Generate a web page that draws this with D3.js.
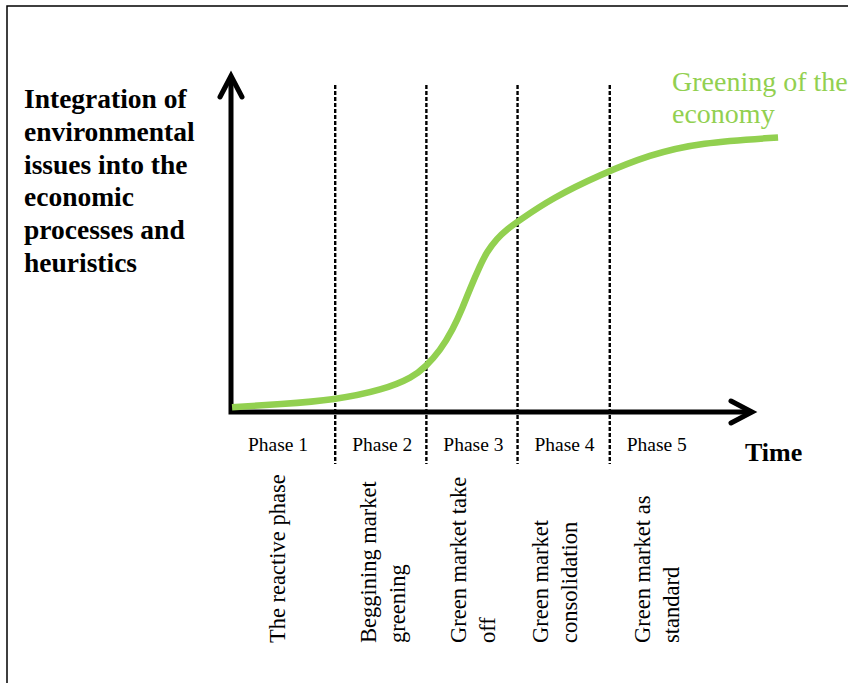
<!DOCTYPE html>
<html>
<head>
<meta charset="utf-8">
<script src="https://cdn.jsdelivr.net/npm/d3@7"></script>
<style>
  html, body { margin: 0; padding: 0; background: #fff; }
  svg { display: block; }
  text { font-family: "Liberation Serif", "Times New Roman", serif; }
</style>
</head>
<body>
<svg id="chart" width="848" height="683"></svg>
<script>
// ---------------- DATA ----------------
const yAxisTitle = ["Integration of", "environmental", "issues into the", "economic", "processes and", "heuristics"];
const xAxisTitle = "Time";
const seriesName = ["Greening of the", "economy"];
const phaseNames = ["Phase 1", "Phase 2", "Phase 3", "Phase 4", "Phase 5"];
const phaseDescriptions = [
  ["The reactive phase"],
  ["Beggining market", "greening"],
  ["Green market take", "off"],
  ["Green market", "consolidation"],
  ["Green market as", "standard"]
];
// phase boundaries on the time scale (0-100)
const phaseBoundaries = [20, 37.5, 55, 72.7];
// curve: time (0-100) and integration level (0-100)
const curveTime  = [0.2, 9.4, 20, 29.2, 34.9, 37.4, 40.1, 42.6, 44.5, 45.9, 47.8, 49.1, 51, 53, 55.1, 61.8, 70.8, 80.4, 90, 105];
const curveLevel = [1.4, 2.3, 3.6, 6.6, 10.3, 13.6, 18.2, 24.6, 31.2, 36.8, 43.6, 47.6, 51.6, 54.4, 56.8, 63.8, 70.6, 76.6, 80.2, 81.7];

// ---------------- LAYOUT ----------------
const W = 848, H = 683;
const green = "#92d050";
const svg = d3.select("#chart");

const x = d3.scaleLinear().domain([0, 100]).range([231, 752]);
const y = d3.scaleLinear().domain([0, 100]).range([412, 76]);

// frame border (left and top)
svg.append("path")
  .attr("d", `M7,${H} L7,6 L${W},6`)
  .attr("fill", "none").attr("stroke", "#000").attr("stroke-width", 1.5);

// dashed phase boundaries
svg.selectAll("line.phase")
  .data(phaseBoundaries).enter().append("line")
  .attr("class", "phase")
  .attr("x1", d => x(d)).attr("x2", d => x(d))
  .attr("y1", 85).attr("y2", 464)
  .attr("stroke", "#000").attr("stroke-width", 2.4)
  .attr("stroke-dasharray", "4,2");

// axes
const x0 = x(0), y0 = y(0);
svg.append("path")
  .attr("d", `M${x0},${y(100)} L${x0},${y0} L${x(100)},${y0}`)
  .attr("fill", "none").attr("stroke", "#000").attr("stroke-width", 5)
  .attr("stroke-linejoin", "miter");
// arrow heads
svg.append("path")
  .attr("d", `M${x(100) - 21},${y0 - 11} L${x(100)},${y0} L${x(100) - 21},${y0 + 11}`)
  .attr("fill", "none").attr("stroke", "#000").attr("stroke-width", 5)
  .attr("stroke-linejoin", "miter").attr("stroke-linecap", "round");
svg.append("path")
  .attr("d", `M${x0 - 11},${y(100) + 21} L${x0},${y(100)} L${x0 + 11},${y(100) + 21}`)
  .attr("fill", "none").attr("stroke", "#000").attr("stroke-width", 5)
  .attr("stroke-linejoin", "miter").attr("stroke-linecap", "round");

// curve
const pts = curveTime.map((t, i) => [t, curveLevel[i]]);
const line = d3.line().x(d => x(d[0])).y(d => y(d[1])).curve(d3.curveBasis);
svg.append("path")
  .datum(pts)
  .attr("d", line)
  .attr("fill", "none").attr("stroke", green).attr("stroke-width", 6.5);

// series label
const sl = svg.append("text")
  .attr("x", 672).attr("y", 91)
  .attr("fill", green).attr("font-size", 28);
seriesName.forEach((s, i) => {
  sl.append("tspan").attr("x", 672).attr("dy", i === 0 ? 0 : 31.5).text(s);
});

// y axis title
const yt = svg.append("text")
  .attr("x", 24).attr("y", 108)
  .attr("font-size", 27.5).attr("font-weight", "bold").attr("fill", "#000");
yAxisTitle.forEach((s, i) => {
  yt.append("tspan").attr("x", 24).attr("dy", i === 0 ? 0 : 32.8).text(s);
});

// x axis title
svg.append("text")
  .attr("x", 745).attr("y", 461)
  .attr("font-size", 26).attr("font-weight", "bold").attr("fill", "#000")
  .text(xAxisTitle);

// phase labels
const lefts = [0].concat(phaseBoundaries);
svg.selectAll("text.phaseName")
  .data(phaseNames).enter().append("text")
  .attr("class", "phaseName")
  .attr("x", (d, i) => x(lefts[i]) + 47)
  .attr("y", 451)
  .attr("text-anchor", "middle")
  .attr("font-size", 19.5).attr("fill", "#000")
  .text(d => d);

// rotated phase descriptions
const descShift = [46, 47.5, 46.5, 37, 47.5];
const lineGap = 29;
phaseDescriptions.forEach((lines, i) => {
  const cx = x(lefts[i]) + descShift[i];
  const n = lines.length;
  lines.forEach((s, j) => {
    const lx = cx + (j - (n - 1) / 2) * lineGap + 7.5;
    svg.append("text")
      .attr("transform", `translate(${lx},643) rotate(-90)`)
      .attr("font-size", 22.5).attr("fill", "#000")
      .text(s);
  });
});
</script>
</body>
</html>
